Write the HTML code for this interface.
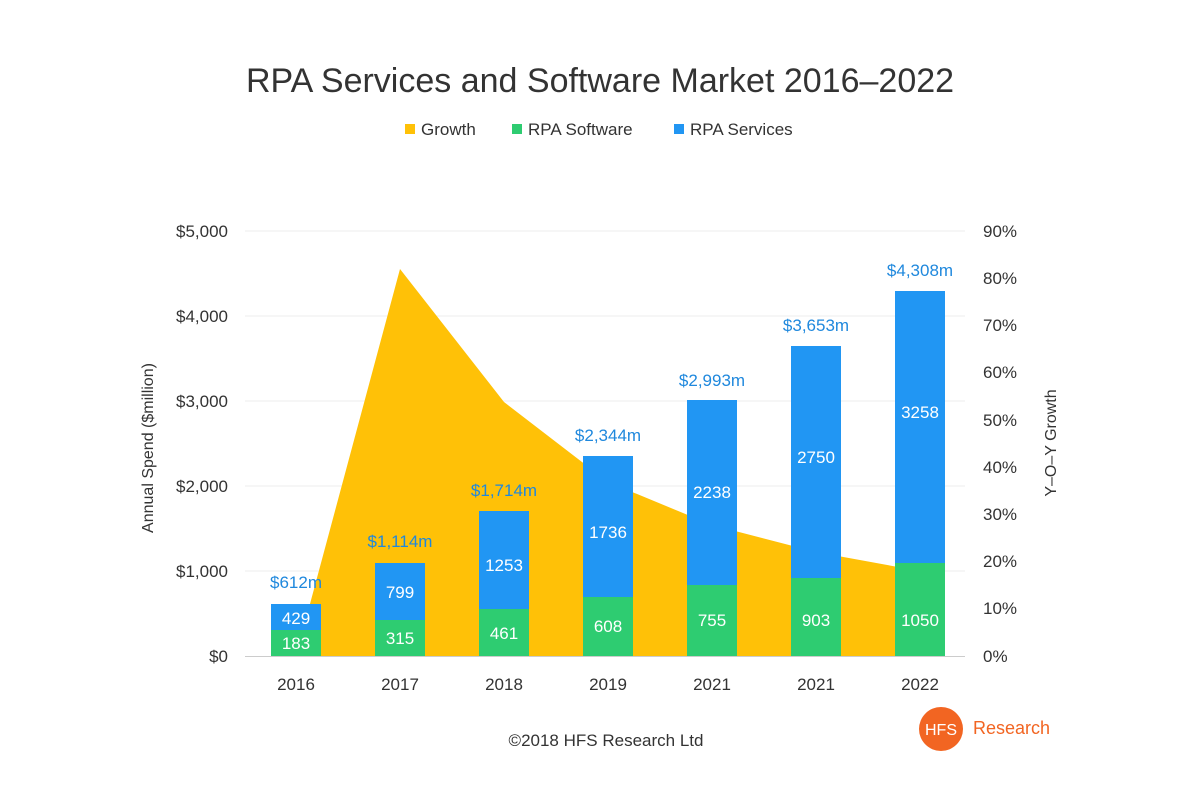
<!DOCTYPE html>
<html><head><meta charset="utf-8"><style>
body{margin:0;background:#fff;}
svg text{font-family:"Liberation Sans",sans-serif;}
</style></head><body>
<svg width="1200" height="800" viewBox="0 0 1200 800" xmlns="http://www.w3.org/2000/svg">
<rect width="1200" height="800" fill="#fff"/>
<text x="600" y="92" text-anchor="middle" font-size="34" fill="#333">RPA Services and Software Market 2016–2022</text>
<g font-size="17" fill="#333">
<rect x="405" y="124" width="10" height="10" fill="#ffc107"/><text x="421" y="135">Growth</text>
<rect x="512" y="124" width="10" height="10" fill="#2ecc71"/><text x="528" y="135">RPA Software</text>
<rect x="674" y="124" width="10" height="10" fill="#2196f3"/><text x="690" y="135">RPA Services</text>
</g>
<g stroke="#eee" stroke-width="1">
<line x1="245" y1="231" x2="965" y2="231"/><line x1="245" y1="316" x2="965" y2="316"/>
<line x1="245" y1="401" x2="965" y2="401"/><line x1="245" y1="486" x2="965" y2="486"/>
<line x1="245" y1="571" x2="965" y2="571"/>
</g>
<polygon fill="#ffc107" points="296,656 400,269 504,402 608,482 712,525 816,552 920,571 920,656"/>
<line x1="245" y1="656.5" x2="965" y2="656.5" stroke="#ccc"/>
<g font-size="17" fill="#333" text-anchor="end">
<text x="228" y="237">$5,000</text><text x="228" y="322">$4,000</text><text x="228" y="407">$3,000</text>
<text x="228" y="492">$2,000</text><text x="228" y="577">$1,000</text><text x="228" y="662">$0</text>
</g>
<g font-size="17" fill="#333">
<text x="983" y="237">90%</text><text x="983" y="284">80%</text><text x="983" y="331">70%</text>
<text x="983" y="378">60%</text><text x="983" y="426">50%</text><text x="983" y="473">40%</text>
<text x="983" y="520">30%</text><text x="983" y="567">20%</text><text x="983" y="614">10%</text>
<text x="983" y="662">0%</text>
</g>
<text transform="translate(153,448) rotate(-90)" text-anchor="middle" font-size="16" fill="#333">Annual Spend  ($million)</text>
<text transform="translate(1056,443) rotate(-90)" text-anchor="middle" font-size="16" fill="#333">Y–O–Y Growth</text>
<g id="bars" font-size="17" text-anchor="middle">
<!-- 2016 -->
<rect x="271" y="604" width="50" height="52" fill="#2196f3"/><rect x="271" y="630" width="50" height="26" fill="#2ecc71"/>
<text x="296" y="624" fill="#fff">429</text><text x="296" y="649" fill="#fff">183</text><text x="296" y="588" fill="#1f88dd">$612m</text>
<!-- 2017 -->
<rect x="375" y="563" width="50" height="93" fill="#2196f3"/><rect x="375" y="620" width="50" height="36" fill="#2ecc71"/>
<text x="400" y="598" fill="#fff">799</text><text x="400" y="644" fill="#fff">315</text><text x="400" y="547" fill="#1f88dd">$1,114m</text>
<!-- 2018 -->
<rect x="479" y="511" width="50" height="145" fill="#2196f3"/><rect x="479" y="609" width="50" height="47" fill="#2ecc71"/>
<text x="504" y="571" fill="#fff">1253</text><text x="504" y="639" fill="#fff">461</text><text x="504" y="496" fill="#1f88dd">$1,714m</text>
<!-- 2019 -->
<rect x="583" y="456" width="50" height="200" fill="#2196f3"/><rect x="583" y="597" width="50" height="59" fill="#2ecc71"/>
<text x="608" y="538" fill="#fff">1736</text><text x="608" y="632" fill="#fff">608</text><text x="608" y="441" fill="#1f88dd">$2,344m</text>
<!-- 2021 -->
<rect x="687" y="400" width="50" height="256" fill="#2196f3"/><rect x="687" y="585" width="50" height="71" fill="#2ecc71"/>
<text x="712" y="498" fill="#fff">2238</text><text x="712" y="626" fill="#fff">755</text><text x="712" y="386" fill="#1f88dd">$2,993m</text>
<!-- 2021 -->
<rect x="791" y="346" width="50" height="310" fill="#2196f3"/><rect x="791" y="578" width="50" height="78" fill="#2ecc71"/>
<text x="816" y="463" fill="#fff">2750</text><text x="816" y="626" fill="#fff">903</text><text x="816" y="331" fill="#1f88dd">$3,653m</text>
<!-- 2022 -->
<rect x="895" y="291" width="50" height="365" fill="#2196f3"/><rect x="895" y="563" width="50" height="93" fill="#2ecc71"/>
<text x="920" y="418" fill="#fff">3258</text><text x="920" y="626" fill="#fff">1050</text><text x="920" y="276" fill="#1f88dd">$4,308m</text>
</g>
<g font-size="17" fill="#333" text-anchor="middle">
<text x="296" y="690">2016</text><text x="400" y="690">2017</text><text x="504" y="690">2018</text>
<text x="608" y="690">2019</text><text x="712" y="690">2021</text><text x="816" y="690">2021</text><text x="920" y="690">2022</text>
</g>
<text x="606" y="746" text-anchor="middle" font-size="17" fill="#333">©2018 HFS Research Ltd</text>
<circle cx="941" cy="729" r="22" fill="#f26522"/>
<text x="941" y="735" text-anchor="middle" font-size="16" fill="#fff">HFS</text>
<text x="973" y="734" font-size="18" fill="#f26522">Research</text>
</svg>
</body></html>
